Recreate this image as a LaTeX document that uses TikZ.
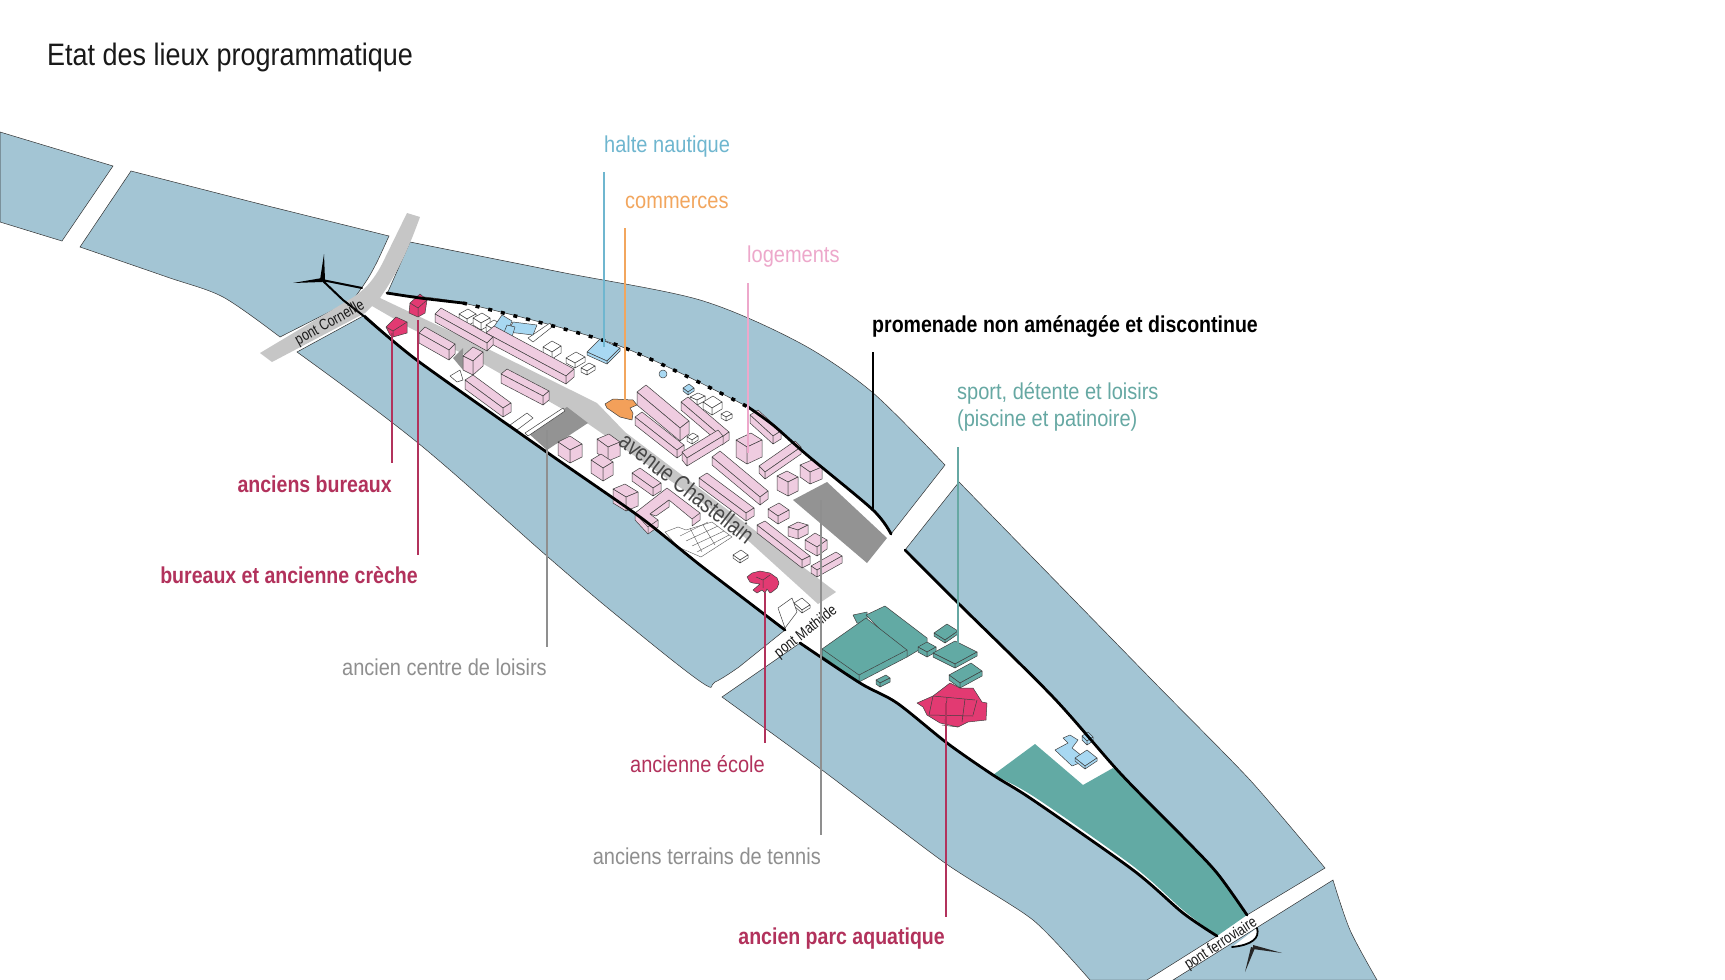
\documentclass[tikz,border=0pt]{standalone}
\usepackage{fontspec}
\setmainfont{Liberation Sans}
\newfontfamily\cond[FakeStretch=0.87]{Liberation Sans}
\newfontfamily\condt[FakeStretch=0.87]{Liberation Sans}
\newfontfamily\condb[FakeStretch=0.8]{Liberation Sans}
\newfontfamily\condbb[FakeStretch=0.85]{Liberation Sans}
\definecolor{water}{HTML}{A3C5D4}
\definecolor{roadg}{HTML}{C6C6C6}
\definecolor{darkg}{HTML}{939393}
\definecolor{pinkb}{HTML}{EFCCE0}
\definecolor{tealb}{HTML}{62AAA4}
\definecolor{magb}{HTML}{E23A72}
\definecolor{orab}{HTML}{F3A05A}
\definecolor{blueb}{HTML}{A8D8F2}
\definecolor{labred}{HTML}{B2325C}
\definecolor{labgrey}{HTML}{8F8F8F}
\definecolor{labteal}{HTML}{66A8A3}
\definecolor{labpink}{HTML}{EDA8CB}
\definecolor{labblue}{HTML}{6FB6CF}
\definecolor{laborange}{HTML}{F2A65E}
\tikzset{
  wat/.style={fill=water,draw=black!80,line width=0.5pt},
  bank/.style={draw=black,line width=2.8pt,line cap=round,line join=round},
  bld/.style={draw=black!75,line width=0.5pt,line join=round},
  lab/.style={font=\cond\fontsize{23}{27}\selectfont,inner sep=0pt},
  labb/.style={font=\condbb\bfseries\fontsize{23}{27}\selectfont,inner sep=0pt},
  brlab/.style={font=\condb\fontsize{15.5}{17}\selectfont,inner sep=0pt,text=black!90},
  leader/.style={line width=2pt},
}
\newcommand\ibox[8]{\begin{scope}[shift={(#2,#3)},bld,fill=#1]
 \filldraw (0,0)--(#4,#5)--({#4+#6},{#5+#7})--(#6,#7)--cycle;
 \filldraw (0,0)--(#6,#7)--(#6,{#7+#8})--(0,#8)--cycle;
 \filldraw (0,0)--(#4,#5)--(#4,{#5+#8})--(0,#8)--cycle;
\end{scope}}
\begin{document}
\begin{tikzpicture}[x=1pt,y=-1pt]
\useasboundingbox (0,0) rectangle (1725,980);
\fill[white] (0,0) rectangle (1725,980);
% water
\draw[wat] (0,132)--(113,166)--(62,241)--(0,222)--cycle;
\draw[wat] plot[smooth,tension=.4] coordinates {(131,171)(260,204)(389,236)} -- plot[smooth,tension=.5] coordinates {(389,236)(377,262)(367,280)(353,300)} -- (280,337) -- plot[smooth,tension=.5] coordinates {(280,337)(223,297)(167,277)(80,247)} -- cycle;
\draw[wat] plot[smooth,tension=.5] coordinates {(410,242)(560,272)(700,300)(800,343)(872,392)(945,465)} -- (891,534) -- plot[smooth,tension=.5] coordinates {(891,534)(873,510)(807,455)(773,425)(748,407)(617,345)(463,303)(387,294)} -- cycle;
\draw[wat] (297,352)--(365,315) -- plot[smooth,tension=.4] coordinates {(365,315)(418,361)(548,453)(640,517)(700,565)(785,630)} -- (739,667) -- plot[smooth,tension=.6] coordinates {(739,667)(715,682)(701,682)(620,618)(548,557)(418,443)(297,352)} -- cycle;
\draw[wat] plot[smooth,tension=.4] coordinates {(959,482)(1152,680)(1250,780)(1325,868)} -- (1247,915) -- plot[smooth,tension=.5] coordinates {(1247,915)(1217,873)(1183,837)(1120,773)(1053,697)(958,603)(905,550)} -- cycle;
\draw[wat] (722,697)--(800,643) -- plot[smooth,tension=.5] coordinates {(800,643)(860,683)(897,703)(947,743)(993,775)(1033,800)(1133,870)(1183,913)(1217,936)} -- (1147,980) -- (1090,980) -- plot[smooth,tension=.4] coordinates {(1090,980)(1033,920)(945,863)(822,770)(722,697)} -- cycle;
\draw[wat] (1333,880)--(1173,980)--(1377,980) -- plot[smooth,tension=.5] coordinates {(1377,980)(1350,930)(1333,880)} -- cycle;
% grey roads
\fill[roadg] (407,213)--(420,217)..controls (408,250) and (398,272)..(380,298)--(490,350)--(597,403)--(625,432)--(836,592)--(818,604)--(720,515)--(587,423)--(480,362)--(410,328)--(372,306)--(365,313)--(272,362)--(260,353)--(352,298)..controls (368,288) and (377,275)..(385,258)--cycle;
% teal ground
\fill[tealb] (993,775)--(1035,744)--(1083,785)--(1113,768)--(1120,773) -- plot[smooth,tension=.5] coordinates {(1120,773)(1183,837)(1217,873)(1247,915)} -- (1217,936) -- plot[smooth,tension=.5] coordinates {(1217,936)(1183,910)(1133,866)(1033,796)(993,775)} -- cycle;
% dark grey grounds
\fill[darkg] (527,432)--(567,407)--(588,423)--(547,450)--cycle;
\fill[darkg] (793,500)--(827,482)--(887,538)--(867,563)--cycle;
\fill[darkg] (453,358)--(463,348)--(463,370)--cycle;
% white buildings
\ibox{white}{467}{319}{9}{-5}{-8}{-5}{7}
\ibox{white}{481}{323}{9}{-5}{-8}{-5}{7}
\ibox{white}{493}{329}{8}{-5}{-7}{-4}{6}
\ibox{white}{552}{352}{9}{-6}{-9}{-5}{7}
\ibox{white}{575}{363}{10}{-6}{-9}{-5}{5}
\ibox{white}{587}{371}{8}{-5}{-6}{-3}{4}
\draw[bld,fill=white] (528,338)--(550,323)--(552,327)--(533,342)--cycle;
\ibox{white}{697}{400}{8}{-4}{-7}{-3}{5}
\ibox{white}{712}{408}{10}{-6}{-9}{-6}{7}
\ibox{white}{726}{417}{6}{-3}{-5}{-3}{4}
\ibox{white}{692}{440}{6}{-4}{-5}{-3}{4}
\ibox{white}{740}{560}{8}{-5}{-7}{-5}{3}
\ibox{white}{802}{610}{8}{-5}{-8}{-7}{3}
\draw[bld,fill=white] (778,608)--(792,598)--(797,612)--(785,628)--cycle;
\draw[bld,fill=white] (525,433)--(563,408)--(565,411)--(528,436)--cycle;
\draw[bld,fill=white] (510,425)--(527,413)--(533,418)--(517,430)--cycle;
\draw[bld,fill=white] (450,376)--(460,370)--(463,380)--(457,382)--cycle;
\draw[draw=black!65,line width=0.4pt,fill=white] (665,532)--(678,527)--(686,530)--(712,522)--(732,537)--(701,557)--(678,547)--cycle;
\draw[draw=black!65,line width=0.4pt] (680,536)--(708,522) (686,541)--(718,526) (692,546)--(724,531) (697,552)--(729,535) (690,528)--(702,552) (703,525)--(715,545);
% blue buildings
\ibox{blueb}{607}{361}{13}{-13}{-20}{-9}{3}
\draw[bld,fill=blueb] (493,328)--(502,315)--(512,321)--(507,333)--cycle;
\draw[bld,fill=blueb] (513,322)--(537,325)--(533,335)--(508,332)--cycle;
\draw[bld,fill=blueb] (507,325)--(515,327)--(512,337)--(503,335)--cycle;
\ibox{blueb}{688}{392}{6}{-4}{-5}{-4}{3}
\draw[bld,fill=blueb] (663,374) circle (4);
\draw[bld,fill=blueb] (1055,750)--(1068,743)--(1063,738)--(1070,735)--(1078,740)--(1072,748)--(1087,760)--(1072,766)--cycle;
\ibox{blueb}{1085}{766}{12}{-8}{-10}{-8}{3}
\ibox{blueb}{1087}{741}{6}{-4}{-5}{-5}{4}
% pink buildings
\ibox{pinkb}{566}{376}{8}{-7}{-80}{-43}{8}
\ibox{pinkb}{487}{343}{6}{-6}{-52}{-29}{8}
\ibox{pinkb}{449}{350}{6}{-6}{-30}{-17}{10}
\ibox{pinkb}{503}{408}{8}{-5}{-38}{-28}{9}
\ibox{pinkb}{473}{361}{10}{-9}{-10}{-5}{14}
\ibox{pinkb}{543}{396}{6}{-5}{-42}{-22}{9}
\ibox{pinkb}{570}{450}{12}{-6}{-12}{-8}{13}
\ibox{pinkb}{608}{447}{12}{-5}{-11}{-8}{14}
\ibox{pinkb}{603}{468}{10}{-6}{-12}{-8}{13}
\ibox{pinkb}{653}{488}{8}{-5}{-21}{-15}{8}
\ibox{pinkb}{626}{497}{12}{-5}{-13}{-8}{14}
\draw[bld,fill=pinkb] (635,513)--(667,488)--(700,513)--(700,520)--(692,526)--(692,519)--(669,500)--(650,514)--(658,520)--(658,527)--(648,534)--(635,520)--cycle;
\draw[bld] (635,513)--(648,527)--(658,520) (648,527)--(648,534) (692,519)--(700,513);
\draw[bld,fill=pinkb] (650,514)--(669,500)--(669,507)--(656,516)--cycle;
\ibox{pinkb}{677}{450}{7}{-5}{-42}{-33}{8}
\ibox{pinkb}{680}{428}{9}{-7}{-43}{-36}{13}
\ibox{pinkb}{722}{437}{7}{-5}{-41}{-35}{8}
\ibox{pinkb}{687}{458}{36}{-22}{-5}{-6}{8}
\ibox{pinkb}{773}{436}{8}{-5}{-23}{-21}{8}
\ibox{pinkb}{747}{447}{15}{-7}{-11}{-7}{17}
\ibox{pinkb}{765}{472}{36}{-25}{-6}{-6}{7}
\ibox{pinkb}{788}{482}{10}{-5}{-11}{-6}{14}
\ibox{pinkb}{810}{472}{12}{-5}{-10}{-7}{12}
\ibox{pinkb}{760}{497}{8}{-6}{-48}{-40}{8}
\ibox{pinkb}{746}{513}{8}{-5}{-47}{-35}{8}
\ibox{pinkb}{778}{516}{11}{-6}{-10}{-7}{8}
\ibox{pinkb}{798}{530}{10}{-5}{-10}{-3}{9}
\ibox{pinkb}{817}{547}{10}{-7}{-12}{-7}{9}
\ibox{pinkb}{802}{560}{8}{-4}{-45}{-35}{8}
\ibox{pinkb}{817}{570}{25}{-14}{-6}{-4}{7}
% magenta and orange
\draw[bld,fill=magb] (410,303)--(420,294)--(427,300)--(425,313)--(418,317)--(409,313)--cycle;
\draw[bld] (410,303)--(418,308)--(427,300) (418,308)--(418,317);
\draw[bld,fill=magb] (386,327)--(396,317)--(407,322)--(407,333)--(393,337)--(390,335)--cycle;
\draw[bld] (386,327)--(393,331)--(407,322) (393,331)--(393,337);
\draw[bld,fill=magb] (747,577)--(752,573)--(760,571)--(770,573)--(777,578)--(779,583)--(777,588)--(772,592)--(770,593)--(767,589)--(765,593)--(762,590)--(757,593)--(753,590)--(760,584)--(753,583)--(750,582)--cycle;
\draw[bld] (756,577)--(763,580)--(770,575) (763,580)--(763,588);
\draw[bld,fill=orab] (605,404)--(613,399)--(633,400)--(637,405)--(630,408)--(633,413)--(632,420)--(620,417)--(607,408)--cycle;
\draw[bld,fill=magb] (917,703)--(933,696)--(950,683)--(960,688)--(973,688)--(982,702)--(987,703)--(986,720)--(968,722)--(958,727)--(940,723)--(927,715)--(923,707)--cycle;
\draw[bld] (933,696)--(975,700) (933,696)--(929,715) (947,698)--(945,722) (965,699)--(962,722) (977,700)--(973,715) (929,715)--(973,716) (942,725)--(958,727);
% teal buildings
\draw[bld,fill=tealb] (853,615)--(867,612)--(867,623)--(857,623)--cycle;
\draw[bld,fill=tealb] (866,615)--(885,606)--(927,638)--(927,645)--(907,657)--cycle;
\draw[bld,fill=tealb] (822,649)--(866,618)--(907,650)--(907,657)--(859,682)--(822,656)--cycle;
\draw[bld] (822,649)--(859,675)--(907,650) (859,675)--(859,682);
\ibox{tealb}{880}{683}{10}{-5}{-4}{-3}{4}
\ibox{tealb}{927}{652}{9}{-5}{-9}{-5}{5}
\ibox{tealb}{945}{640}{13}{-9}{-11}{-7}{3}
\ibox{tealb}{955}{664}{22}{-12}{-22}{-11}{4}
\ibox{tealb}{960}{683}{22}{-12}{-11}{-8}{5}
% island banks
\draw[bank,line width=2pt] (362,288)--(322,280)--(343,300)--(365,317);
\fill[black] (320,280)--(324,254)--(325,280)--cycle;
\fill[black] (322,278)--(293,283)--(322,282)--cycle;
\draw[bank] plot[smooth,tension=.4] coordinates {(365,317)(418,361)(548,453)(640,517)(700,565)(785,630)};
\draw[bank] plot[smooth,tension=.5] coordinates {(800,643)(860,683)(897,703)(947,743)(993,775)(1033,800)(1133,870)(1183,913)(1217,936)};
\draw[bank] plot[smooth,tension=.4] coordinates {(387,293)(420,298)(463,303)};
\draw[draw=black,line width=3.5pt,dash pattern=on 4pt off 9pt] plot[smooth,tension=.5] coordinates {(463,303)(617,345)(748,407)};
\draw[bank] plot[smooth,tension=.5] coordinates {(748,407)(773,425)(807,455)(873,510)(891,534)};
\draw[bank] plot[smooth,tension=.5] coordinates {(905,550)(958,603)(1053,697)(1120,773)(1183,837)(1217,873)(1247,915)};
% south tip
\draw[bank,fill=white,line width=1.8pt] (1257,928)..controls (1260,938) and (1252,945)..(1232,947);
\fill[black!85] (1253,945)--(1282,953)--(1253,949)--cycle;
\fill[black!85] (1251,947)--(1245,972)--(1255,948)--cycle;
% bridge labels
\node[brlab,rotate=29] (pcorn) at (330,323) {pont Corneille};
\node[brlab,rotate=38] (pmath) at (806,632) {pont Mathilde};
\node[brlab,rotate=33] (pferr) at (1221,944) {pont ferroviaire};
\node[font=\condb\fontsize{24}{28}\selectfont,inner sep=0pt,text=black!72,rotate=-38] (aveCh) at (687,488) {avenue Chastellain};
% title and labels
\node[font=\condt\fontsize{31}{35}\selectfont,anchor=west,inner sep=0pt,text=black!90] (titre) at (47,57) {Etat des lieux programmatique};
\node[lab,text=labblue,anchor=west] (halte) at (604,147) {halte nautique};
\node[lab,text=laborange,anchor=west] (comm) at (625,202) {commerces};
\node[lab,text=labpink,anchor=west] (loge) at (747,257) {logements};
\node[labb,text=black,anchor=west] (prom) at (872,326) {promenade non aménagée et discontinue};
\node[lab,text=labteal,anchor=west] (sport) at (957,393) {sport, détente et loisirs};
\node[lab,text=labteal,anchor=west] (pisc) at (957,421) {(piscine et patinoire)};
\node[labb,text=labred,anchor=east] (abur) at (392,484) {anciens bureaux};
\node[labb,text=labred,anchor=east] (bcre) at (418,575) {bureaux et ancienne crèche};
\node[lab,text=labgrey,anchor=east] (cent) at (547,667) {ancien centre de loisirs};
\node[lab,text=labred,anchor=east] (ecol) at (765,764) {ancienne école};
\node[lab,text=labgrey,anchor=east] (tenn) at (821,856) {anciens terrains de tennis};
\node[labb,text=labred,anchor=east] (parc) at (945,939) {ancien parc aquatique};
% leaders
\coordinate (l1a) at (604,172); \coordinate (l1b) at (604,347);
\coordinate (l2a) at (625,228); \coordinate (l2b) at (625,400);
\coordinate (l3a) at (748,283); \coordinate (l3b) at (748,453);
\coordinate (l4a) at (873,352); \coordinate (l4b) at (873,510);
\coordinate (l5a) at (958,447); \coordinate (l5b) at (958,647);
\coordinate (l6a) at (392,333); \coordinate (l6b) at (392,463);
\coordinate (l7a) at (418,320); \coordinate (l7b) at (418,555);
\coordinate (l8a) at (547,430); \coordinate (l8b) at (547,647);
\coordinate (l9a) at (765,593); \coordinate (l9b) at (765,743);
\coordinate (l10a) at (821,500); \coordinate (l10b) at (821,835);
\coordinate (l11a) at (946,703); \coordinate (l11b) at (946,917);
\draw[leader,labblue] (l1a)--(l1b);
\draw[leader,laborange] (l2a)--(l2b);
\draw[leader,labpink] (l3a)--(l3b);
\draw[leader,black] (l4a)--(l4b);
\draw[leader,labteal] (l5a)--(l5b);
\draw[leader,labred] (l6a)--(l6b);
\draw[leader,labred] (l7a)--(l7b);
\draw[leader,labgrey] (l8a)--(l8b);
\draw[leader,labred] (l9a)--(l9b);
\draw[leader,labgrey] (l10a)--(l10b);
\draw[leader,labred] (l11a)--(l11b);
\end{tikzpicture}
\end{document}
